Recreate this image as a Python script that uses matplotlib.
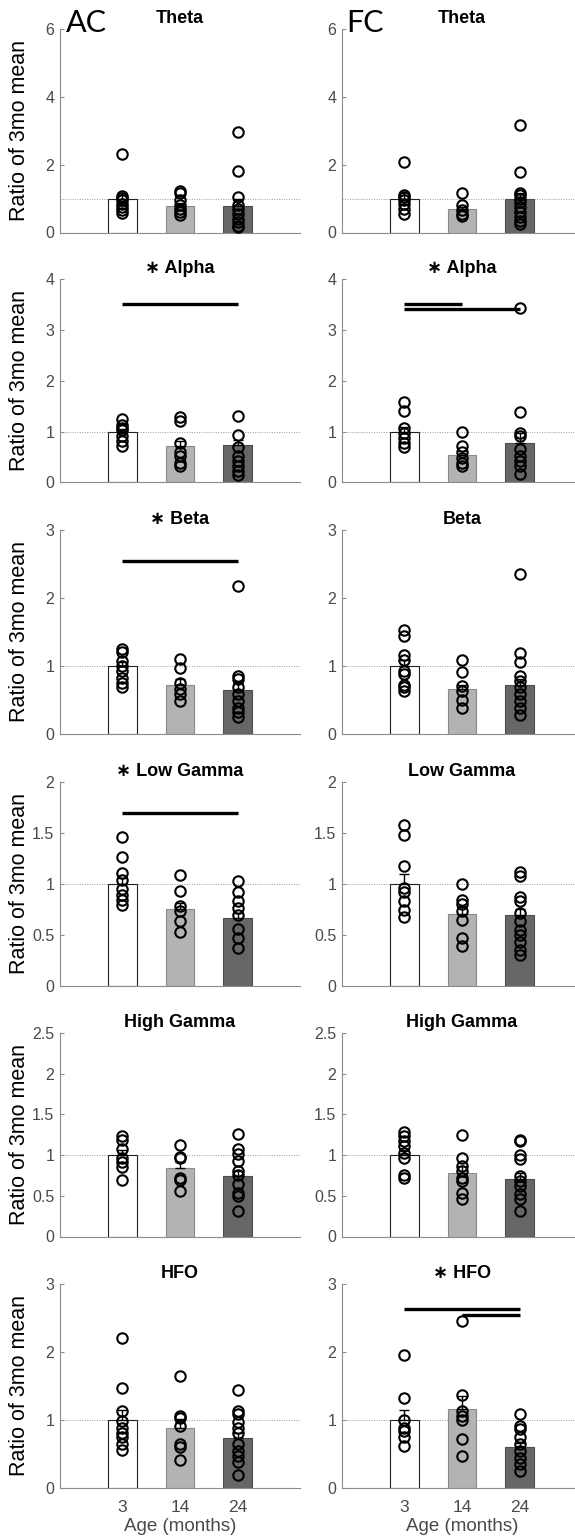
import matplotlib
matplotlib.use('Agg')
import matplotlib.pyplot as plt
import numpy as np

plt.rcParams.update({
    'font.family': ['Liberation Sans', 'DejaVu Sans'],
    'axes.linewidth': 0.8,
})

# ---- data ----
bands = ['Theta', 'Alpha', 'Beta', 'Low Gamma', 'High Gamma', 'HFO']
ages = ['3', '14', '24']
ymax = [6, 4, 3, 2, 2.5, 3]
ystep = [2, 1, 1, 0.5, 0.5, 1]

# bar heights (group mean / 3mo mean) and SEM
ac_means = [[1.0, 0.78, 0.78], [1.0, 0.72, 0.73], [1.0, 0.72, 0.64],
            [1.0, 0.75, 0.66], [1.0, 0.84, 0.74], [1.0, 0.87, 0.73]]
ac_sems = [[0.15, 0.09, 0.2], [0.05, 0.1, 0.1], [0.06, 0.08, 0.1],
           [0.06, 0.06, 0.05], [0.06, 0.07, 0.06], [0.14, 0.14, 0.08]]
fc_means = [[1.0, 0.68, 1.0], [1.0, 0.54, 0.78], [1.0, 0.65, 0.71],
            [1.0, 0.70, 0.69], [1.0, 0.78, 0.71], [1.0, 1.15, 0.60]]
fc_sems = [[0.15, 0.08, 0.17], [0.09, 0.07, 0.2], [0.09, 0.07, 0.1],
           [0.10, 0.07, 0.06], [0.06, 0.08, 0.07], [0.14, 0.2, 0.06]]

# individual animals, per age group
ac_theta = [[2.3, 1.08, 1.02, 0.95, 0.85, 0.75, 0.65, 0.58],
            [1.22, 1.15, 0.95, 0.8, 0.7, 0.6, 0.52],
            [2.95, 1.82, 1.05, 0.8, 0.7, 0.55, 0.4, 0.3, 0.2, 0.15]]
ac_alpha = [[1.24, 1.14, 1.08, 1.04, 0.92, 0.82, 0.71],
            [1.29, 1.21, 0.78, 0.59, 0.52, 0.39, 0.33],
            [1.31, 0.93, 0.69, 0.52, 0.42, 0.33, 0.23, 0.15]]
ac_beta = [[1.25, 1.2, 1.07, 0.99, 0.92, 0.82, 0.75, 0.68],
           [1.1, 0.97, 0.75, 0.66, 0.58, 0.48],
           [2.18, 0.85, 0.8, 0.68, 0.58, 0.48, 0.38, 0.31, 0.25]]
ac_lowgamma = [[1.46, 1.26, 1.11, 1.04, 0.95, 0.89, 0.84, 0.79],
               [1.09, 0.93, 0.78, 0.73, 0.63, 0.53],
               [1.03, 0.92, 0.83, 0.76, 0.69, 0.56, 0.47, 0.37]]
ac_highgamma = [[1.23, 1.18, 1.07, 0.96, 0.91, 0.85, 0.70],
                [1.12, 0.98, 0.96, 0.72, 0.69, 0.56],
                [1.26, 1.07, 1.01, 0.93, 0.8, 0.76, 0.64, 0.54, 0.5, 0.31]]
ac_hfo = [[2.2, 1.47, 1.13, 0.98, 0.88, 0.81, 0.74, 0.64, 0.56],
          [1.65, 1.05, 1.03, 0.9, 0.64, 0.59, 0.4],
          [1.44, 1.13, 1.09, 0.96, 0.88, 0.81, 0.64, 0.54, 0.47, 0.37, 0.19]]

fc_theta = [[2.08, 1.1, 1.05, 0.95, 0.85, 0.7, 0.55],
            [1.17, 0.8, 0.65, 0.55, 0.5],
            [3.16, 1.77, 1.15, 1.1, 1.0, 0.9, 0.75, 0.6, 0.45, 0.35, 0.25]]
fc_alpha = [[1.59, 1.41, 1.07, 0.98, 0.88, 0.78, 0.69],
            [0.99, 0.72, 0.59, 0.49, 0.39, 0.33],
            [3.43, 1.39, 0.98, 0.92, 0.65, 0.52, 0.42, 0.33, 0.16]]
fc_beta = [[1.53, 1.43, 1.16, 1.09, 0.92, 0.87, 0.72, 0.68, 0.62],
           [1.09, 0.9, 0.7, 0.63, 0.5, 0.38],
           [2.35, 1.19, 1.05, 0.85, 0.77, 0.68, 0.58, 0.48, 0.38, 0.28]]
fc_lowgamma = [[1.58, 1.48, 1.17, 0.96, 0.92, 0.83, 0.74, 0.67],
               [1.0, 0.84, 0.8, 0.73, 0.64, 0.47, 0.39],
               [1.12, 1.08, 0.87, 0.83, 0.71, 0.63, 0.55, 0.5, 0.43, 0.35, 0.30]]
fc_highgamma = [[1.28, 1.23, 1.17, 1.11, 1.02, 0.96, 0.76, 0.72],
                [1.25, 0.97, 0.86, 0.8, 0.72, 0.68, 0.53, 0.46],
                [1.19, 1.17, 1.0, 0.95, 0.74, 0.68, 0.62, 0.52, 0.46, 0.31]]
fc_hfo = [[1.96, 1.32, 1.0, 0.88, 0.83, 0.74, 0.61],
          [2.45, 1.37, 1.13, 1.05, 1.0, 0.71, 0.46],
          [1.09, 0.91, 0.86, 0.74, 0.64, 0.54, 0.44, 0.34, 0.25]]

ac_points = [ac_theta, ac_alpha, ac_beta, ac_lowgamma, ac_highgamma, ac_hfo]
fc_points = [fc_theta, fc_alpha, fc_beta, fc_lowgamma, fc_highgamma, fc_hfo]

# significance bars: (from group, to group, height)
ac_sig = {'Alpha': [(1, 3, 3.5)], 'Beta': [(1, 3, 2.55)], 'Low Gamma': [(1, 3, 1.7)]}
fc_sig = {'Alpha': [(1, 2, 3.5), (1, 3, 3.41)], 'HFO': [(1, 3, 2.63), (2, 3, 2.55)]}

# ---- style ----
bar_colors = ['white', '#b3b3b3', '#666666']
bar_edges = ['#222222', '#8a8a8a', '#4d4d4d']
axis_gray = '#8c8c8c'
text_gray = '#4a4a4a'

W, H = 575, 1538
fig = plt.figure(figsize=(W / 100, H / 100), dpi=100)

row_tops = [29, 279, 530, 782, 1033, 1284]
ax_h = 203.5
col_x = [60, 342]
ax_w = 240

regions = [('AC', ac_points, ac_means, ac_sems, ac_sig),
           ('FC', fc_points, fc_means, fc_sems, fc_sig)]

x = np.arange(1, 4)
for r, band in enumerate(bands):
    for c, (region, points, means, sems, sig) in enumerate(regions):
        ax = fig.add_axes([col_x[c] / W, 1 - (row_tops[r] + ax_h) / H, ax_w / W, ax_h / H])

        ax.axhline(1, color='#9a9a9a', lw=0.7, ls=(0, (1, 1.5)), zorder=0)
        ax.bar(x, means[r], width=0.5, color=bar_colors, edgecolor=bar_edges,
               linewidth=0.8, zorder=1)
        ax.errorbar(x, means[r], yerr=[np.zeros(3), sems[r]], fmt='none',
                    ecolor='k', elinewidth=1, capsize=3.5, capthick=1, zorder=2)
        for i in range(3):
            vals = points[r][i]
            ax.plot(np.full(len(vals), x[i]), vals, 'o', mfc='none', mec='k',
                    ms=7.5, mew=1.5, zorder=3)

        for a, b, y in sig.get(band, []):
            ax.plot([a, b], [y, y], color='k', lw=2.4, solid_capstyle='butt', zorder=4)

        ax.set_xlim(-0.07, 4.07)
        ax.set_ylim(0, ymax[r])
        ticks = np.arange(0, ymax[r] + 1e-9, ystep[r])
        ax.set_yticks(ticks)
        ax.set_yticklabels([f'{t:g}' for t in ticks])

        for s in ['top', 'right']:
            ax.spines[s].set_visible(False)
        ax.spines['left'].set_color(axis_gray)
        ax.spines['bottom'].set_color(axis_gray)
        ax.tick_params(axis='y', direction='in', length=3, color=axis_gray,
                       labelsize=11.5, labelcolor=text_gray, pad=4)
        ax.tick_params(axis='x', length=0, labelsize=12.5, labelcolor=text_gray, pad=9)

        if r == len(bands) - 1:
            ax.set_xticks(x)
            ax.set_xticklabels(ages)
            ax.set_xlabel('Age (months)', fontsize=13.5, color=text_gray, labelpad=2)
        else:
            ax.set_xticks([])

        title = band
        if band in sig:
            title = '\u2217 ' + band
        ax.set_title(title, fontsize=13, fontweight='bold', pad=4)

        if c == 0:
            ax.set_ylabel('Ratio of 3mo mean', fontsize=15.5)
            ax.yaxis.set_label_coords(-0.125, 0.5)

# region labels
fig.text(66 / W, 1 - 9 / H, 'AC', fontsize=22, family='Lato', va='top', ha='left')
fig.text(346 / W, 1 - 9 / H, 'FC', fontsize=22, family='Lato', va='top', ha='left')

fig.savefig('out.png', dpi=100)
